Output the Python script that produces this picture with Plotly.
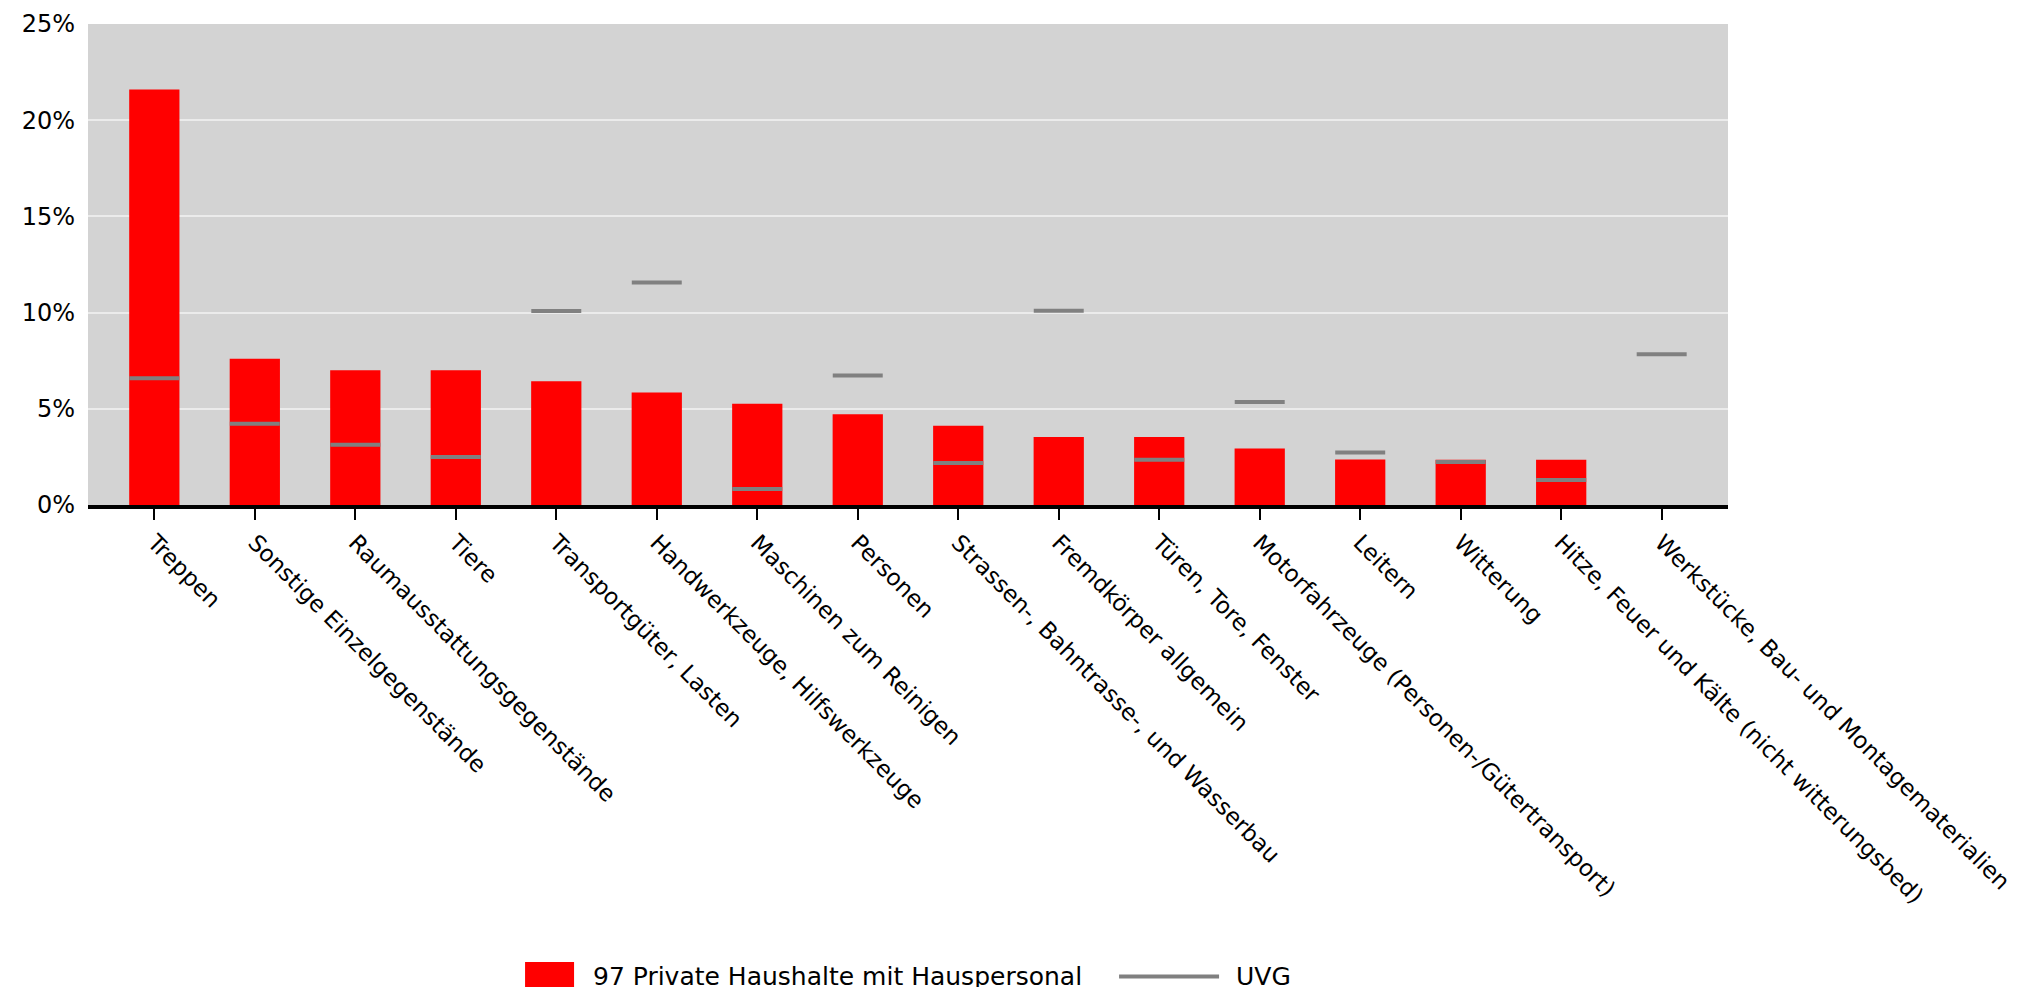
import plotly.graph_objects as go

categories = [
    "Treppen",
    "Sonstige Einzelgegenstände",
    "Raumausstattungsgegenstände",
    "Tiere",
    "Transportgüter, Lasten",
    "Handwerkzeuge, Hilfswerkzeuge",
    "Maschinen zum Reinigen",
    "Personen",
    "Strassen-, Bahntrasse-, und Wasserbau",
    "Fremdkörper allgemein",
    "Türen, Tore, Fenster",
    "Motorfahrzeuge (Personen-/Gütertransport)",
    "Leitern",
    "Witterung",
    "Hitze, Feuer und Kälte (nicht witterungsbed)",
    "Werkstücke, Bau- und Montagematerialien",
]

haushalte_values = [21.6, 7.6, 7.0, 7.0, 6.43, 5.85, 5.26, 4.72, 4.12, 3.53, 3.53, 2.94, 2.37, 2.35, 2.35, 0.0]
uvg_values = [6.59, 4.22, 3.13, 2.49, 10.08, 11.56, 0.83, 6.73, 2.18, 10.1, 2.35, 5.35, 2.73, 2.23, 1.30, 7.84]

y_ticks = [0, 5, 10, 15, 20, 25]
y_tick_labels = ["0%", "5%", "10%", "15%", "20%", "25%"]

series_bar_name = "97 Private Haushalte mit Hauspersonal"
series_uvg_name = "UVG"

FONT = "DejaVu Sans, Verdana, sans-serif"
RED = "#ff0000"
GRAY = "#808080"

fig = go.Figure()

fig.add_trace(go.Bar(
    x=categories,
    y=haushalte_values,
    name=series_bar_name,
    width=0.5,
    marker=dict(color=RED, line=dict(width=0)),
    showlegend=False,
))

fig.add_trace(go.Scatter(
    x=categories,
    y=uvg_values,
    mode="markers",
    name=series_uvg_name,
    showlegend=False,
    marker=dict(symbol="line-ew", size=35.7, line=dict(color=GRAY, width=4)),
))

# ---- legend (drawn below the plot, sized like the reference) ----
legend_y = -0.9802
legend_items = [
    # (symbol kind, symbol x anchor (paper), text x (paper), text)
    ("rect", 0.2665, 0.3067, series_bar_name),
    ("line", 0.6287, 0.6988, series_uvg_name),
]
shapes = []
annotations = []
for kind, sx, tx, label in legend_items:
    if kind == "rect":
        shapes.append(dict(
            type="rect", xref="paper", yref="paper",
            xsizemode="pixel", ysizemode="pixel",
            xanchor=sx, yanchor=legend_y,
            x0=0, x1=49, y0=-14.5, y1=14.5,
            fillcolor=RED, line=dict(width=0),
        ))
    else:
        shapes.append(dict(
            type="line", xref="paper", yref="paper",
            xsizemode="pixel", ysizemode="pixel",
            xanchor=sx, yanchor=legend_y,
            x0=0, x1=100, y0=0, y1=0,
            line=dict(color=GRAY, width=4),
        ))
    annotations.append(dict(
        text=label, xref="paper", yref="paper",
        x=tx, y=legend_y, xanchor="left", yanchor="middle",
        showarrow=False, font=dict(family=FONT, size=25, color="black"),
    ))

fig.update_layout(
    width=2023,
    height=987,
    margin=dict(l=80, r=303, t=16, b=490, pad=0),
    paper_bgcolor="white",
    plot_bgcolor="#d3d3d3",
    font=dict(family=FONT, size=24, color="black"),
    showlegend=False,
    shapes=shapes,
    annotations=annotations,
)

fig.update_xaxes(
    type="category",
    range=[-0.66, 15.66],
    tickangle=45,
    tickfont=dict(family=FONT, size=23, color="black"),
    showline=True,
    linecolor="black",
    linewidth=4,
    ticks="outside",
    ticklen=11,
    tickwidth=2,
    tickcolor="black",
    showgrid=False,
    automargin=False,
)

fig.update_yaxes(
    range=[0, 25],
    tickvals=y_ticks,
    ticktext=y_tick_labels,
    tickfont=dict(family=FONT, size=24, color="black"),
    showline=False,
    ticks="",
    ticklabelstandoff=12,
    showgrid=True,
    gridcolor="#ebebeb",
    gridwidth=2,
    zeroline=False,
    automargin=False,
)

fig.write_html("out.html")
